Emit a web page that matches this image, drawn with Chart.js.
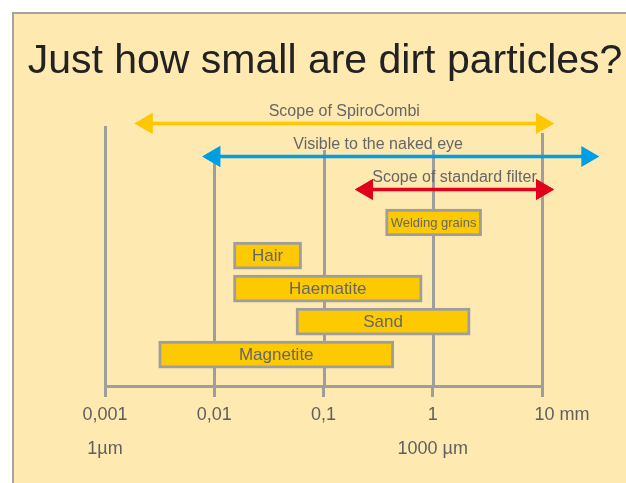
<!DOCTYPE html>
<html lang="en">
<head>
  <meta charset="UTF-8">
  <title>Just how small are dirt particles?</title>
  <style>
    html, body { margin: 0; padding: 0; background: #fff; }
    #wrap { width: 626px; height: 483px; }
  </style>
</head>
<body>
  <div id="wrap"><canvas id="dirtChart"></canvas></div>

  <script src="https://cdn.jsdelivr.net/npm/chart.js"></script>
  <script>
    // particle size ranges (mm)
    const particles = ['Welding grains', 'Hair', 'Haematite', 'Sand', 'Magnetite'];
    const particleMin = [0.37, 0.015, 0.015, 0.056, 0.0031];
    const particleMax = [2.8, 0.063, 0.8, 2.2, 0.44];

    // ranges shown as arrows (mm)
    const scopes = ['Scope of SpiroCombi', 'Visible to the naked eye', 'Scope of standard filter'];
    const scopeMin = [0.0024, 0.01, 0.25];
    const scopeMax = [10, 26, 10];
    const scopeColors = ['#fdc800', '#009fe3', '#e3001b'];

    const tickValues = [0.001, 0.01, 0.1, 1, 10];
    const tickLabels = ['0,001', '0,01', '0,1', '1', '10 mm'];
    const micronLabels = ['1µm', '', '', '1000 µm', ''];

    const FONT = "'Liberation Sans', Arial, sans-serif";
    const GREY = '#9e9e9e';

    // background panel + title
    const panel = {
      id: 'panel',
      beforeDraw(chart) {
        const { ctx, width, height } = chart;
        ctx.save();
        ctx.fillStyle = '#fff';
        ctx.fillRect(0, 0, width, height);
        ctx.fillStyle = '#fee9b1';
        ctx.fillRect(12, 12, width - 12, height - 12);
        ctx.strokeStyle = '#a3a3a3';
        ctx.lineWidth = 2;
        ctx.beginPath();
        ctx.moveTo(13, height);
        ctx.lineTo(13, 13);
        ctx.lineTo(width, 13);
        ctx.stroke();

        ctx.fillStyle = '#222';
        ctx.font = '41px ' + FONT;
        ctx.textAlign = 'center';
        ctx.textBaseline = 'alphabetic';
        ctx.fillText('Just how small are dirt particles?', 325, 73);
        ctx.restore();
      }
    };

    // vertical decade lines, each starting at its own height
    const decadeLines = {
      id: 'decadeLines',
      beforeDatasetsDraw(chart, args, opts) {
        const { ctx, chartArea, scales: { x } } = chart;
        ctx.save();
        ctx.strokeStyle = GREY;
        ctx.lineWidth = 3;
        tickValues.forEach((v, i) => {
          const px = Math.round(x.getPixelForValue(v)) + 0.5;
          ctx.beginPath();
          ctx.moveTo(px, opts.tops[i]);
          ctx.lineTo(px, chartArea.bottom);
          ctx.stroke();
        });
        ctx.restore();
      }
    };

    // arrow heads that fall outside the chart area are skipped by Chart.js, draw them without area check
    const arrowHeads = {
      id: 'arrowHeads',
      afterDatasetsDraw(chart) {
        scopes.forEach((s, i) => {
          chart.getDatasetMeta(i).data.forEach(pt => pt.draw(chart.ctx));
        });
      }
    };

    // text on bars and above arrows
    const textLabels = {
      id: 'textLabels',
      afterDatasetsDraw(chart) {
        const { ctx, scales: { x, y } } = chart;
        ctx.save();
        ctx.fillStyle = '#666';
        ctx.textAlign = 'center';
        ctx.textBaseline = 'middle';

        ctx.font = '16px ' + FONT;
        scopes.forEach((s, i) => {
          const hi = Math.min(scopeMax[i], x.max);
          const mid = Math.sqrt(scopeMin[i] * hi);
          ctx.fillText(s, x.getPixelForValue(mid), y.getPixelForValue(i) - 12);
        });

        const meta = chart.getDatasetMeta(scopes.length);
        meta.data.forEach((bar, i) => {
          const { x: end, base, y: cy } = bar.getProps(['x', 'base', 'y'], true);
          let size = 17;
          ctx.font = size + 'px ' + FONT;
          const room = Math.abs(end - base) - 8;
          const w = ctx.measureText(particles[i]).width;
          if (w > room) {
            size = Math.floor(size * room / w);
            ctx.font = size + 'px ' + FONT;
          }
          ctx.fillText(particles[i], (end + base) / 2, cy + 1);
        });
        ctx.restore();
      }
    };

    const arrowSets = scopes.map((s, i) => ({
      type: 'line',
      label: s,
      data: [{ x: scopeMin[i], y: i }, { x: scopeMax[i], y: i }],
      borderColor: scopeColors[i],
      borderWidth: 3.5,
      pointStyle: 'triangle',
      pointRadius: 12,
      pointRotation: [-90, 90],
      pointBackgroundColor: scopeColors[i],
      pointBorderWidth: 0,
      clip: false
    }));

    const barSet = {
      type: 'bar',
      label: 'Particle size',
      data: particles.map((p, i) => ({ x: [particleMin[i], particleMax[i]], y: scopes.length + i })),
      backgroundColor: '#fdc900',
      borderColor: GREY,
      borderWidth: 3,
      borderSkipped: false,
      barThickness: 27
    };

    new Chart(document.getElementById('dirtChart'), {
      type: 'bar',
      data: { datasets: [...arrowSets, barSet] },
      options: {
        indexAxis: 'y',
        responsive: true,
        maintainAspectRatio: false,
        animation: false,
        layout: { padding: { top: 102, left: 105, right: 84, bottom: 0 } },
        plugins: {
          legend: { display: false },
          tooltip: { enabled: false },
          decadeLines: { tops: [126, 150, 150, 150, 133] }
        },
        scales: {
          x: {
            type: 'logarithmic',
            min: 0.001,
            max: 10,
            afterBuildTicks: (s) => { s.ticks = tickValues.map(v => ({ value: v })); },
            afterFit: (s) => { s.height = 97; },
            border: { display: true, color: GREY, width: 3 },
            grid: { drawOnChartArea: false, color: GREY, lineWidth: 3, tickLength: 11 },
            ticks: {
              autoSkip: false,
              maxRotation: 0,
              padding: 1,
              color: '#5f5f5f',
              font: { family: FONT, size: 18, lineHeight: 1.89 },
              callback: (v, i) => {
                const top = i === tickLabels.length - 1 ? '        ' + tickLabels[i] : tickLabels[i];
                return [top, micronLabels[i]];
              }
            }
          },
          y: {
            type: 'linear',
            reverse: true,
            offset: false,
            min: -0.65,
            max: 7.95,
            display: false
          }
        }
      },
      plugins: [panel, decadeLines, arrowHeads, textLabels]
    });
  </script>
</body>
</html>
